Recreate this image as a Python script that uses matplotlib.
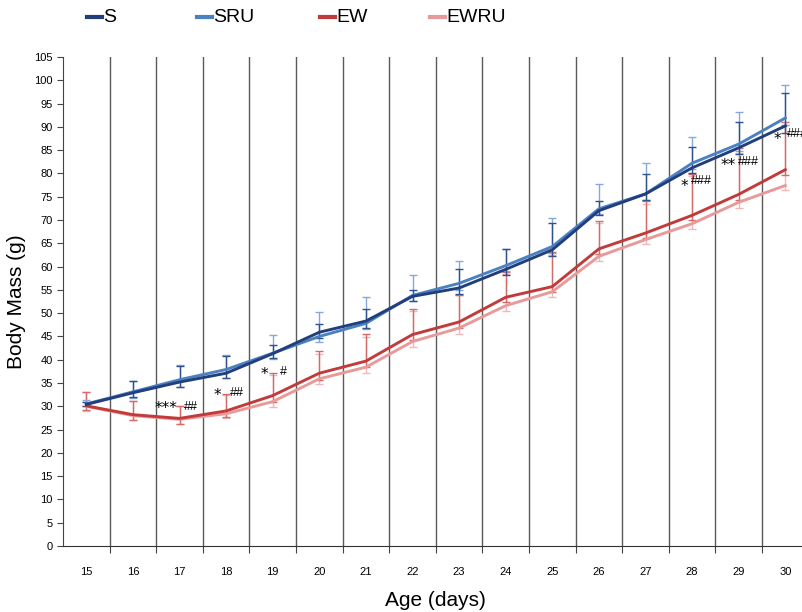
import matplotlib
matplotlib.use("Agg")
import matplotlib.pyplot as plt
import numpy as np
from matplotlib.lines import Line2D

plt.rcParams['font.family'] = ['Liberation Sans', 'DejaVu Sans']

# dados
dias = [15, 16, 17, 18, 19, 20, 21, 22, 23, 24, 25, 26, 27, 28, 29, 30]

S = [30.4, 32.9, 35.2, 37.1, 41.3, 45.9, 48.3, 53.6, 55.4, 59.4, 63.6, 72.0, 75.6, 81.2, 85.5, 90.2]
SRU = [30.5, 33.1, 35.7, 37.9, 41.4, 45.0, 47.8, 53.8, 56.4, 60.2, 64.3, 72.4, 75.6, 82.2, 86.3, 91.9]
EW = [30.1, 28.2, 27.4, 29.0, 32.3, 37.1, 39.7, 45.4, 48.1, 53.4, 55.7, 63.8, 67.2, 71.0, 75.5, 80.8]
EWRU = [30.0, 28.0, 27.2, 28.4, 31.0, 35.9, 38.4, 43.9, 46.8, 51.6, 54.6, 62.2, 65.8, 69.2, 73.8, 77.4]

# barras de erro (para cima / para baixo)
S_up = [0.6, 2.6, 3.4, 3.8, 1.9, 1.8, 2.5, 1.4, 4.0, 4.4, 5.7, 2.0, 4.3, 4.5, 5.5, 7.1]
SRU_up = [0.8, 2.4, 3.1, 3.2, 3.8, 5.2, 5.6, 4.4, 4.7, 3.6, 6.2, 5.4, 6.6, 5.7, 6.8, 7.0]
EW_up = [3.0, 2.9, 2.6, 3.7, 4.9, 4.7, 5.9, 5.5, 5.9, 5.4, 7.4, 5.9, 6.8, 8.9, 10.0, 10.2]
EWRU_up = [3.1, 3.1, 2.8, 4.0, 5.8, 5.4, 6.4, 6.5, 7.0, 6.7, 7.9, 7.1, 7.7, 10.3, 10.5, 12.9]

S_lo = [0.4, 1.0, 1.0, 1.1, 1.0, 1.2, 1.4, 1.0, 1.2, 1.3, 1.4, 1.0, 1.2, 1.2, 1.4, 1.5]
SRU_lo = [0.5, 1.4, 1.6, 1.8, 1.2, 1.2, 1.3, 1.2, 1.4, 1.2, 1.4, 1.2, 1.4, 1.3, 1.4, 1.5]
EW_lo = [1.0, 1.2, 1.2, 1.2, 1.3, 1.4, 1.3, 1.2, 1.3, 1.1, 1.2, 1.2, 1.1, 1.1, 1.2, 1.1]
EWRU_lo = [1.0, 1.0, 1.1, 1.0, 1.1, 1.1, 1.2, 1.1, 1.2, 1.2, 1.1, 1.1, 1.0, 1.1, 1.2, 1.0]

# marcas de significancia
ann_text = ['***', '##', '*', '##', '*', '#', '*', '###', '**', '###', '*', '###']
ann_x = [1.72, 2.24, 2.82, 3.24, 3.82, 4.24, 12.84, 13.2, 13.78, 14.2, 14.84, 15.04]
ann_y = [29.6, 29.9, 32.4, 32.9, 36.8, 37.4, 77.2, 78.4, 81.7, 82.4, 87.3, 88.5]

series = [('S', S, S_up, S_lo, '#213f7c', '#2f528f'),
          ('SRU', SRU, SRU_up, SRU_lo, '#4b80c3', '#86aad8'),
          ('EW', EW, EW_up, EW_lo, '#c23b3b', '#d36b6b'),
          ('EWRU', EWRU, EWRU_up, EWRU_lo, '#e89a9a', '#f0b8b8')]

fig = plt.figure(figsize=(8.02, 6.12), dpi=100)
ax = fig.add_axes([63/802, 66/612, 745.6/802, 489/612])

x = np.arange(len(dias))
for nome, vals, up, lo, cor, cor_err in series[::-1]:
    ax.errorbar(x, vals, yerr=[lo, up], fmt='none', ecolor=cor_err, elinewidth=1,
                capsize=3, capthick=1, zorder=2)
for nome, vals, up, lo, cor, cor_err in series[::-1]:
    ax.plot(x, vals, color=cor, lw=2.1, zorder=3)

for t, xx, yy in zip(ann_text, ann_x, ann_y):
    ha = 'left' if xx > 15 else 'center'
    if '#' in t:
        ax.text(xx, yy, t, fontsize=9, ha=ha, va='center', color='black', clip_on=False)
    else:
        ax.text(xx, yy, t, fontsize=11, ha=ha, va='center', color='black',
                family='DejaVu Sans', clip_on=False)

ax.set_xlim(-0.5, len(dias) - 0.5)
ax.set_ylim(0, 105)
ax.set_yticks(np.arange(0, 106, 5))
ax.tick_params(axis='y', labelsize=8, length=4, direction='out', color='#444444')

# linhas verticais entre as categorias
bordas = np.arange(0.5, len(dias) - 0.5, 1)
ax.set_xticks(bordas)
ax.set_xticklabels([])
ax.tick_params(axis='x', which='major', length=5, direction='out', color='#444444')
ax.set_xticks(x, minor=True)
ax.set_xticklabels([str(d) for d in dias], minor=True)
ax.tick_params(axis='x', which='minor', length=0, pad=15, labelsize=8)
for b in bordas:
    ax.axvline(b, color='#5a5a5a', lw=1, zorder=1)

ax.spines['top'].set_visible(False)
ax.spines['right'].set_visible(False)
ax.spines['left'].set_color('#444444')
ax.spines['bottom'].set_color('#333333')

ax.set_xlabel('Age (days)', fontsize=15, labelpad=10)
ax.set_ylabel('Body Mass (g)', fontsize=15, labelpad=6)

# legenda no topo
leg_x = [87, 197, 320, 430]
for (nome, vals, up, lo, cor, cor_err), lx in zip(series, leg_x):
    fig.add_artist(Line2D([lx/802, (lx + 15)/802], [1 - 17/612, 1 - 17/612], color=cor, lw=3))
    fig.text((lx + 16)/802, 1 - 17/612, nome, fontsize=14, va='center', ha='left')

fig.savefig('out.png', dpi=100)
